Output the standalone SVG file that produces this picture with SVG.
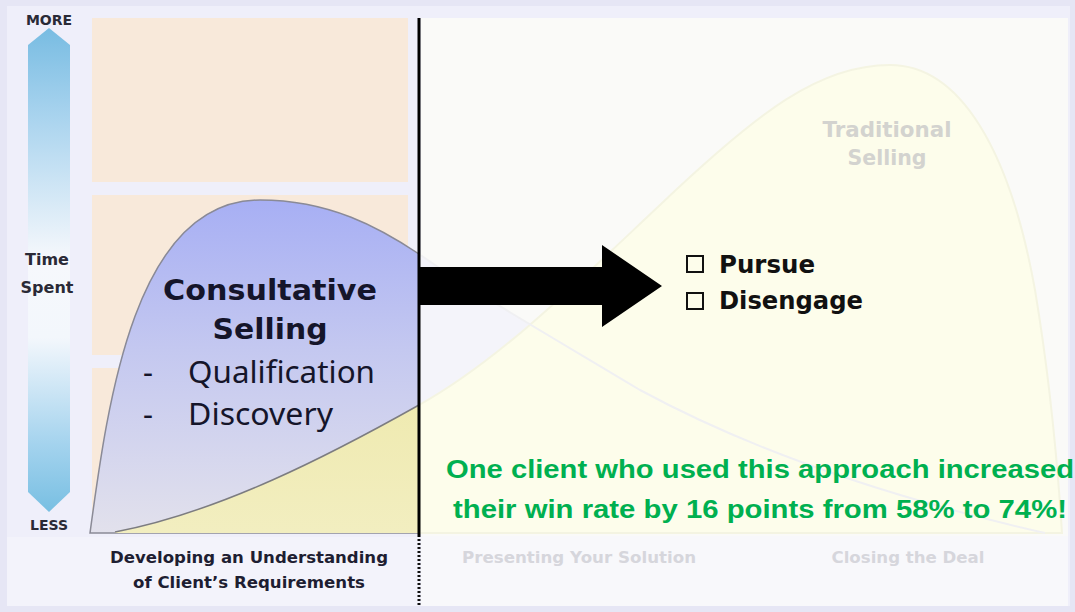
<svg xmlns="http://www.w3.org/2000/svg" width="1075" height="612" viewBox="0 0 1075 612">
  <defs>
    <linearGradient id="axisGrad" x1="0" y1="0" x2="0" y2="1">
      <stop offset="0" stop-color="#78bce2"/>
      <stop offset="0.18" stop-color="#a8d3ee"/>
      <stop offset="0.48" stop-color="#f6f8fc"/>
      <stop offset="0.64" stop-color="#f3f7fc"/>
      <stop offset="0.86" stop-color="#a4d3ee"/>
      <stop offset="1" stop-color="#78bfe2"/>
    </linearGradient>
    <linearGradient id="consultGrad" x1="0" y1="200" x2="0" y2="533" gradientUnits="userSpaceOnUse">
      <stop offset="0" stop-color="#a7aff4"/>
      <stop offset="0.45" stop-color="#c4c8f0"/>
      <stop offset="1" stop-color="#e2e1ec"/>
    </linearGradient>
    <linearGradient id="yellowGrad" x1="0" y1="400" x2="0" y2="533" gradientUnits="userSpaceOnUse">
      <stop offset="0" stop-color="#efeab0"/>
      <stop offset="1" stop-color="#f2eec0"/>
    </linearGradient>
    <style>
      .bold { font-family: "DejaVu Sans", "Liberation Sans", sans-serif; font-weight: bold; }
      .axis { font-size: 14px; fill: #2a2a36; text-anchor: middle; }
      .axis-mid { font-size: 16px; fill: #2a2a36; text-anchor: middle; }
      .title { font-size: 29px; fill: #15152a; text-anchor: middle; }
      .bullet { font-family: "Noto Sans", "Open Sans", sans-serif; font-size: 31px; fill: #15152a; }
      .phase { font-size: 16px; fill: #1e1e32; text-anchor: middle; }
      .phase-faint { font-size: 16px; fill: #d6d6dc; text-anchor: middle; }
      .trad { font-size: 22px; fill: #d3d3cf; text-anchor: middle; }
      .choice { font-size: 24px; fill: #111; }
      .note { font-family: "Liberation Sans", Arial, sans-serif; font-weight: bold; font-size: 26px; fill: #00b050; text-anchor: middle; }
      .peach { fill: #f8e9da; }
    </style>
  </defs>

  <!-- page background and frame -->
  <rect x="0" y="0" width="1075" height="612" fill="#e6e6f5"/>
  <rect x="7" y="6" width="1063" height="600" fill="#efeffa"/>

  <!-- time axis -->
  <g id="time-axis">
    <path d="M49 28 L70 45 L70 492 L49 512 L28 492 L28 45 Z" fill="url(#axisGrad)"/>
    <text class="bold axis" x="49" y="25">MORE</text>
    <text class="bold axis-mid" x="47" y="265">Time</text>
    <text class="bold axis-mid" x="47" y="293">Spent</text>
    <text class="bold axis" x="49" y="530">LESS</text>
  </g>

  <!-- left chart: background bands -->
  <g id="left-bands">
    <rect class="peach" x="92" y="18" width="316" height="164"/>
    <rect class="peach" x="92" y="195" width="316" height="160"/>
    <rect class="peach" x="92" y="368" width="316" height="165"/>
  </g>
  <rect x="7" y="537" width="412" height="69" fill="#f3f3fb"/>

  <!-- right chart panel -->
  <rect x="421" y="18" width="647" height="588" fill="#fafaf8"/>
  <rect x="421" y="536" width="647" height="70" fill="#f8f8fb"/>

  <!-- traditional selling curve (faded) -->
  <g id="traditional-selling">
    <path d="M419 254 C 470 290, 540 330, 640 390 C 760 455, 900 500, 1045 533 L 419 533 Z" fill="#f4f4fa"/>
    <path d="M419 405 C 500 360, 580 280, 660 205 C 760 110, 820 65, 890 65 C 960 65, 1010 150, 1035 290 C 1050 380, 1058 470, 1062 533 L 419 533 Z" fill="#fdfdeb" stroke="#f4f4e2" stroke-width="2"/>
    <path d="M419 254 C 470 290, 540 330, 640 390 C 760 455, 900 500, 1045 533" fill="none" stroke="#f0f0f2" stroke-width="2"/>
    <text class="bold trad" x="887" y="137" textLength="129" lengthAdjust="spacingAndGlyphs">Traditional</text>
    <text class="bold trad" x="887" y="165" textLength="79" lengthAdjust="spacingAndGlyphs">Selling</text>
  </g>

  <!-- consultative selling curve -->
  <g id="consultative-selling">
    <path d="M90 533 C 108 400, 135 200, 260 200 C 330 200, 380 228, 419 254 L 419 533 Z" fill="url(#consultGrad)" stroke="#8a8a96" stroke-width="1.5"/>
    <path d="M115 532 C 220 512, 330 455, 419 405 L 419 533 L 115 533 Z" fill="url(#yellowGrad)"/>
    <path d="M115 532 C 220 512, 330 455, 419 405" fill="none" stroke="#7c7c80" stroke-width="1.5"/>
    <text class="bold title" x="270" y="300" textLength="214" lengthAdjust="spacingAndGlyphs">Consultative</text>
    <text class="bold title" x="270" y="339" textLength="115" lengthAdjust="spacingAndGlyphs">Selling</text>
    <text class="bullet" x="143" y="383">-</text>
    <text class="bullet" x="188" y="383" textLength="187" lengthAdjust="spacingAndGlyphs">Qualification</text>
    <text class="bullet" x="143" y="425">-</text>
    <text class="bullet" x="188" y="425" textLength="145" lengthAdjust="spacingAndGlyphs">Discovery</text>
  </g>

  <!-- phase labels -->
  <g id="phase-labels">
    <text class="bold phase" x="249" y="563" textLength="278" lengthAdjust="spacingAndGlyphs">Developing an Understanding</text>
    <text class="bold phase" x="249" y="588" textLength="232" lengthAdjust="spacingAndGlyphs">of Client’s Requirements</text>
    <text class="bold phase-faint" x="579" y="563" textLength="234" lengthAdjust="spacingAndGlyphs">Presenting Your Solution</text>
    <text class="bold phase-faint" x="908" y="563" textLength="153" lengthAdjust="spacingAndGlyphs">Closing the Deal</text>
  </g>

  <!-- decision options -->
  <g id="decision">
    <rect x="687" y="256" width="16" height="16" fill="none" stroke="#111" stroke-width="2"/>
    <text class="bold choice" x="719" y="273" textLength="96" lengthAdjust="spacingAndGlyphs">Pursue</text>
    <rect x="687" y="293" width="16" height="16" fill="none" stroke="#111" stroke-width="2"/>
    <text class="bold choice" x="719" y="309" textLength="144" lengthAdjust="spacingAndGlyphs">Disengage</text>
  </g>

  <!-- result note -->
  <g id="result-note">
    <text class="note" x="760" y="478" textLength="628" lengthAdjust="spacingAndGlyphs">One client who used this approach increased</text>
    <text class="note" x="760" y="518" textLength="614" lengthAdjust="spacingAndGlyphs">their win rate by 16 points from 58% to 74%!</text>
  </g>

  <!-- divider and decision arrow -->
  <g id="connectors">
    <line x1="419" y1="18" x2="419" y2="537" stroke="#000" stroke-width="3"/>
    <line x1="419" y1="539" x2="419" y2="606" stroke="#111" stroke-width="3" stroke-dasharray="2 2"/>
    <path d="M419 267 L602 267 L602 245 L662 286 L602 327 L602 305 L419 305 Z" fill="#000"/>
  </g>
</svg>
